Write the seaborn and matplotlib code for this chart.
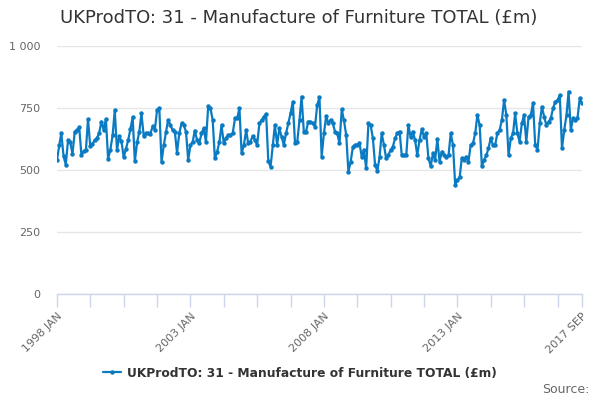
import numpy as np
import pandas as pd
import seaborn as sns
import matplotlib.pyplot as plt
import matplotlib.dates as mdates

sns.set_theme(style="white")
plt.rcParams['font.family'] = ['DejaVu Sans']

# Monthly turnover, 1998 JAN .. 2017 SEP
y1998 = [540, 600, 648, 555, 522, 620, 612, 565, 655, 662, 672, 560]
y1999 = [575, 582, 705, 595, 605, 620, 628, 650, 695, 662, 705, 545]
y2000 = [582, 640, 740, 580, 636, 615, 552, 585, 620, 665, 712, 535]
y2001 = [612, 655, 728, 638, 648, 648, 645, 676, 662, 742, 748, 532]
y2002 = [600, 655, 702, 682, 662, 655, 570, 648, 688, 681, 655, 540]
y2003 = [601, 614, 659, 621, 607, 648, 668, 614, 758, 749, 702, 547]
y2004 = [574, 614, 681, 607, 628, 641, 641, 648, 708, 708, 749, 567]
y2005 = [601, 661, 607, 614, 637, 621, 601, 688, 702, 715, 726, 535]
y2006 = [513, 601, 681, 601, 668, 634, 601, 648, 688, 728, 775, 610]
y2007 = [614, 702, 796, 655, 655, 695, 695, 688, 675, 762, 793, 554]
y2008 = [648, 718, 688, 702, 688, 655, 648, 607, 744, 700, 641, 493]
y2009 = [534, 594, 601, 601, 610, 554, 581, 507, 688, 681, 628, 520]
y2010 = [496, 554, 648, 601, 547, 560, 581, 594, 628, 648, 655, 560]
y2011 = [560, 560, 681, 634, 655, 621, 560, 621, 664, 634, 648, 547]
y2012 = [516, 567, 540, 624, 534, 574, 560, 554, 560, 648, 600, 440]
y2013 = [460, 473, 547, 540, 554, 534, 601, 607, 648, 722, 680, 516]
y2014 = [540, 560, 587, 628, 601, 601, 648, 661, 702, 782, 722, 560]
y2015 = [628, 648, 728, 648, 614, 688, 722, 614, 715, 722, 769, 601]
y2016 = [581, 688, 755, 715, 681, 695, 708, 749, 775, 782, 802, 587]
y2017 = [661, 722, 816, 661, 708, 702, 708, 789, 769]

values = (y1998 + y1999 + y2000 + y2001 + y2002 + y2003 + y2004 + y2005
          + y2006 + y2007 + y2008 + y2009 + y2010 + y2011 + y2012 + y2013
          + y2014 + y2015 + y2016 + y2017)
series_name = "UKProdTO: 31 - Manufacture of Furniture TOTAL (£m)"
tick_labels = ["1998 JAN", "2003 JAN", "2008 JAN", "2013 JAN", "2017 SEP"]
y_ticks = [0, 250, 500, 750, 1000]
y_tick_labels = ["0", "250", "500", "750", "1 000"]

months = pd.date_range("1998-01-01", periods=len(values), freq="MS")
df = pd.DataFrame({"month": months, "value": values})

line_color = "#0a7bc2"

fig = plt.figure(figsize=(6, 4), dpi=100)
ax = fig.add_axes([0.095, 0.265, 0.875, 0.62])

sns.lineplot(data=df, x="month", y="value", ax=ax, color=line_color,
             linewidth=1.6, marker="o", markersize=3.2, markeredgewidth=0,
             label=series_name, legend=False)

ax.set_xlim(months[0], months[-1])
ax.set_ylim(0, 1000)
ax.set_yticks(y_ticks)
ax.set_yticklabels(y_tick_labels, color="#666666", fontsize=8)
ax.yaxis.grid(True, color="#e6e6e6", linewidth=1)
ax.set_xlabel("")
ax.set_ylabel("")

label_dates = [months[0], pd.Timestamp("2003-01-01"), pd.Timestamp("2008-01-01"),
               pd.Timestamp("2013-01-01"), months[-1]]
ax.set_xticks(label_dates)
ax.set_xticklabels(tick_labels, rotation=45, ha="right", rotation_mode="anchor",
                   color="#666666", fontsize=8)
ax.set_xticks(pd.date_range(months[0], months[-1], freq="15MS"), minor=True)
ax.tick_params(axis="x", which="both", length=9, width=1, color="#ccd6eb",
               direction="out", bottom=True)
ax.tick_params(axis="x", which="major", pad=3)
ax.tick_params(axis="y", length=0, pad=12)

for side in ["top", "right", "left"]:
    ax.spines[side].set_visible(False)
ax.spines["bottom"].set_color("#ccd6eb")
ax.spines["bottom"].set_linewidth(1)

fig.text(0.10, 0.955, series_name, fontsize=13, color="#333333", va="center")

leg = fig.legend(*ax.get_legend_handles_labels(), loc="center",
                 bbox_to_anchor=(0.5, 0.067), frameon=False, handlelength=1.5,
                 handletextpad=0.5, prop={"weight": "bold", "size": 8.8})
for t in leg.get_texts():
    t.set_color("#333333")

fig.text(0.983, 0.027, "Source:", fontsize=9, color="#666666", ha="right", va="center")

fig.savefig("out.png", dpi=100)
